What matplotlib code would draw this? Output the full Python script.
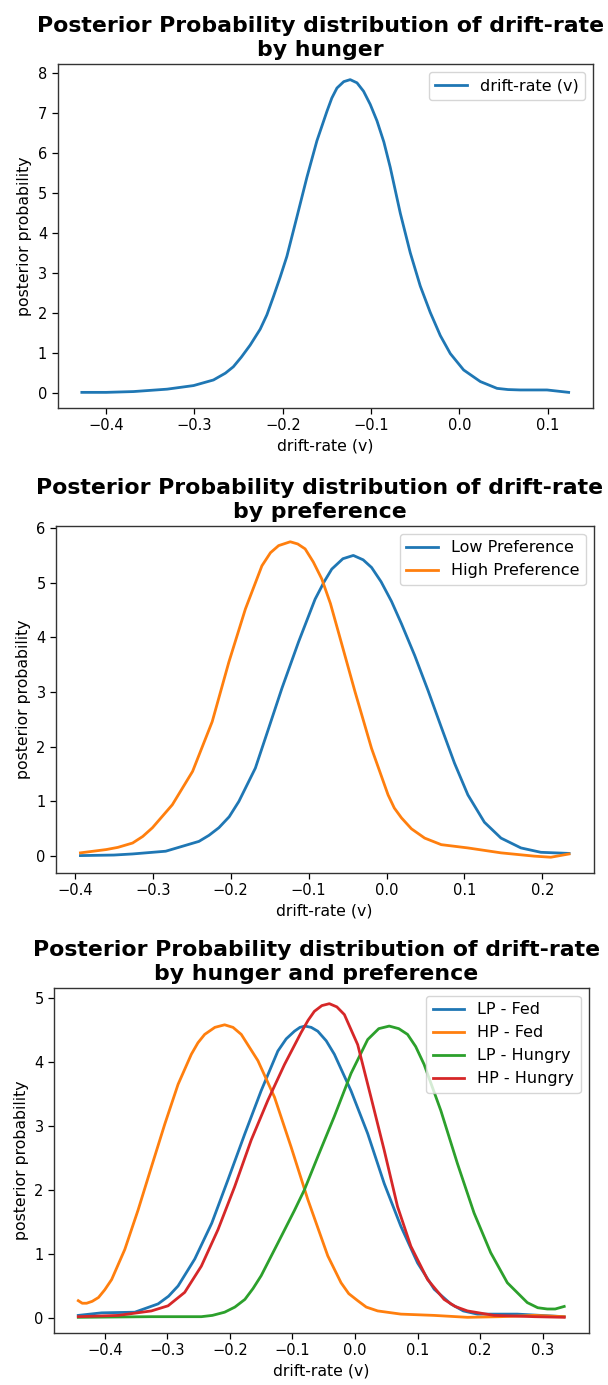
import numpy as np
import matplotlib
matplotlib.use("Agg")
import matplotlib.pyplot as plt

# panel 1: drift-rate by hunger
hunger_x = [-0.4275, -0.400, -0.369, -0.331, -0.301, -0.2785, -0.265, -0.256, -0.247, -0.237,
            -0.2256, -0.218, -0.2105, -0.203, -0.1954, -0.184, -0.1727, -0.1614, -0.150, -0.1445,
            -0.1387, -0.131, -0.1237, -0.116, -0.1086, -0.101, -0.0934, -0.0856, -0.0784, -0.067,
            -0.0557, -0.0444, -0.0331, -0.0217, -0.0104, 0.0047, 0.0236, 0.0425, 0.055, 0.0689,
            0.0991, 0.1236]
hunger_y = [0.02, 0.02, 0.04, 0.10, 0.19, 0.33, 0.50, 0.66, 0.90, 1.20,
            1.60, 1.96, 2.42, 2.90, 3.42, 4.41, 5.40, 6.31, 7.05, 7.38,
            7.63, 7.79, 7.84, 7.76, 7.55, 7.22, 6.81, 6.28, 5.65, 4.50,
            3.51, 2.68, 2.02, 1.44, 0.99, 0.58, 0.29, 0.12, 0.09, 0.08,
            0.08, 0.02]

# panel 2: by preference
low_x = [-0.393, -0.350, -0.326, -0.2835, -0.2408, -0.228, -0.2152, -0.202, -0.1896, -0.1684,
         -0.1513, -0.1343, -0.1129, -0.0917, -0.080, -0.0703, -0.056, -0.0426, -0.030, -0.0192,
         -0.007, 0.0064, 0.0192, 0.0362, 0.0533, 0.0703, 0.0873, 0.1045, 0.1257, 0.147,
         0.1726, 0.1982, 0.2344]
low_y = [0.01, 0.02, 0.04, 0.09, 0.27, 0.38, 0.52, 0.72, 1.00, 1.61,
         2.34, 3.07, 3.92, 4.70, 5.02, 5.25, 5.44, 5.50, 5.42, 5.28,
         5.02, 4.66, 4.25, 3.67, 3.03, 2.36, 1.70, 1.12, 0.62, 0.33,
         0.15, 0.07, 0.05]
high_x = [-0.393, -0.360, -0.345, -0.326, -0.313, -0.3005, -0.275, -0.249, -0.2238, -0.2024,
          -0.1812, -0.160, -0.149, -0.1385, -0.1236, -0.114, -0.1045, -0.094, -0.0831, -0.072,
          -0.0618, -0.0405, -0.0192, 0.002, 0.010, 0.0192, 0.032, 0.049, 0.0703, 0.1045,
          0.147, 0.1896, 0.211, 0.2344]
high_y = [0.06, 0.12, 0.16, 0.24, 0.36, 0.52, 0.94, 1.55, 2.46, 3.55,
          4.52, 5.31, 5.55, 5.68, 5.75, 5.71, 5.62, 5.38, 5.07, 4.62,
          4.10, 3.01, 1.97, 1.12, 0.88, 0.70, 0.50, 0.33, 0.21, 0.15,
          0.06, 0.00, -0.02, 0.04]

# panel 3: by hunger and preference
lpfed_x = [-0.4423, -0.405, -0.352, -0.3147, -0.298, -0.2828, -0.2562, -0.229, -0.203, -0.176,
           -0.150, -0.1233, -0.110, -0.0968, -0.088, -0.0800, -0.070, -0.0595, -0.046, -0.033,
           -0.0064, 0.0203, 0.0467, 0.0734, 0.100, 0.1265, 0.153, 0.173, 0.1957, 0.2595,
           0.3344]
lpfed_y = [0.04, 0.08, 0.09, 0.22, 0.34, 0.50, 0.92, 1.48, 2.16, 2.88,
           3.55, 4.17, 4.36, 4.48, 4.54, 4.56, 4.54, 4.48, 4.33, 4.12,
           3.55, 2.88, 2.10, 1.43, 0.86, 0.45, 0.22, 0.11, 0.06, 0.06,
           0.02]
hpfed_x = [-0.4423, -0.436, -0.429, -0.420, -0.410, -0.400, -0.389, -0.368, -0.3466, -0.3254,
           -0.304, -0.2828, -0.2616, -0.251, -0.2403, -0.224, -0.2084, -0.195, -0.1818, -0.1552,
           -0.1287, -0.1021, -0.0754, -0.0435, -0.0223, -0.010, 0.0043, 0.018, 0.0362, 0.0734,
           0.1265, 0.1797, 0.233, 0.2866, 0.3344]
hpfed_y = [0.27, 0.23, 0.23, 0.26, 0.32, 0.44, 0.60, 1.07, 1.69, 2.36,
           3.03, 3.65, 4.12, 4.30, 4.43, 4.54, 4.58, 4.54, 4.43, 4.02,
           3.45, 2.67, 1.85, 0.97, 0.55, 0.38, 0.27, 0.17, 0.11, 0.06,
           0.04, 0.01, 0.02, 0.04, 0.02]
lphun_x = [-0.4423, -0.3254, -0.2456, -0.228, -0.2084, -0.192, -0.176, -0.163, -0.150, -0.1233,
           -0.0968, -0.081, -0.0595, -0.033, -0.0064, 0.0203, 0.0380, 0.0547, 0.070, 0.084,
           0.097, 0.1105, 0.1372, 0.1638, 0.1903, 0.2169, 0.2435, 0.2754, 0.292, 0.3073,
           0.320, 0.3344]
lphun_y = [0.01, 0.02, 0.02, 0.04, 0.09, 0.17, 0.29, 0.46, 0.66, 1.17,
           1.68, 2.00, 2.52, 3.15, 3.82, 4.35, 4.52, 4.56, 4.52, 4.43,
           4.24, 3.96, 3.24, 2.41, 1.64, 1.02, 0.55, 0.24, 0.16, 0.14,
           0.14, 0.18]
hphun_x = [-0.4423, -0.3785, -0.3254, -0.2988, -0.2722, -0.2456, -0.219, -0.1924, -0.1659, -0.1393,
           -0.1127, -0.0861, -0.075, -0.065, -0.053, -0.041, -0.029, -0.017, 0.0043, 0.0255,
           0.0467, 0.068, 0.0893, 0.116, 0.1424, 0.160, 0.1797, 0.2222, 0.2866, 0.3344]
hphun_y = [0.02, 0.04, 0.11, 0.19, 0.40, 0.81, 1.38, 2.05, 2.78, 3.40,
           3.96, 4.46, 4.65, 4.79, 4.88, 4.91, 4.86, 4.74, 4.27, 3.45,
           2.62, 1.74, 1.12, 0.60, 0.29, 0.18, 0.11, 0.04, 0.02, 0.01]

C = ["#1f77b4", "#ff7f0e", "#2ca02c", "#d62728"]
plt.rcParams.update({"axes.labelsize": 11.3, "legend.fontsize": 11.5,
                     "xtick.labelsize": 10.5, "ytick.labelsize": 10.5,
                     "axes.linewidth": 1.0,
                     "xtick.major.size": 4, "ytick.major.size": 4,
                     "xtick.major.width": 0.9, "ytick.major.width": 0.9,
                     "axes.edgecolor": "#333333"})
LW = 2.0
TITLE = dict(fontsize=15.8, fontweight="bold", x=0.491)

fig = plt.figure(figsize=(6.08, 13.85), dpi=100)
ax1 = fig.add_axes([57.5 / 608, 1 - 408 / 1385, 535.5 / 608, 344 / 1385])
ax2 = fig.add_axes([56 / 608, 1 - 873 / 1385, 537.5 / 608, 347 / 1385])
ax3 = fig.add_axes([54 / 608, 1 - 1333 / 1385, 534.5 / 608, 345 / 1385])

ax1.plot(hunger_x, hunger_y, color=C[0], lw=LW, label="drift-rate (v)")
ax1.set_title("Posterior Probability distribution of drift-rate\nby hunger", **TITLE)

ax2.plot(low_x, low_y, color=C[0], lw=LW, label="Low Preference")
ax2.plot(high_x, high_y, color=C[1], lw=LW, label="High Preference")
ax2.set_title("Posterior Probability distribution of drift-rate\nby preference", **TITLE)

ax3.plot(lpfed_x, lpfed_y, color=C[0], lw=LW, label="LP - Fed")
ax3.plot(hpfed_x, hpfed_y, color=C[1], lw=LW, label="HP - Fed")
ax3.plot(lphun_x, lphun_y, color=C[2], lw=LW, label="LP - Hungry")
ax3.plot(hphun_x, hphun_y, color=C[3], lw=LW, label="HP - Hungry")
ax3.set_title("Posterior Probability distribution of drift-rate\nby hunger and preference", **TITLE)

for ax in (ax1, ax2, ax3):
    ax.set_xlabel("drift-rate (v)")
    ax.set_ylabel("posterior probability")
    ax.legend(loc="upper right")

fig.savefig("out.png", dpi=100)
